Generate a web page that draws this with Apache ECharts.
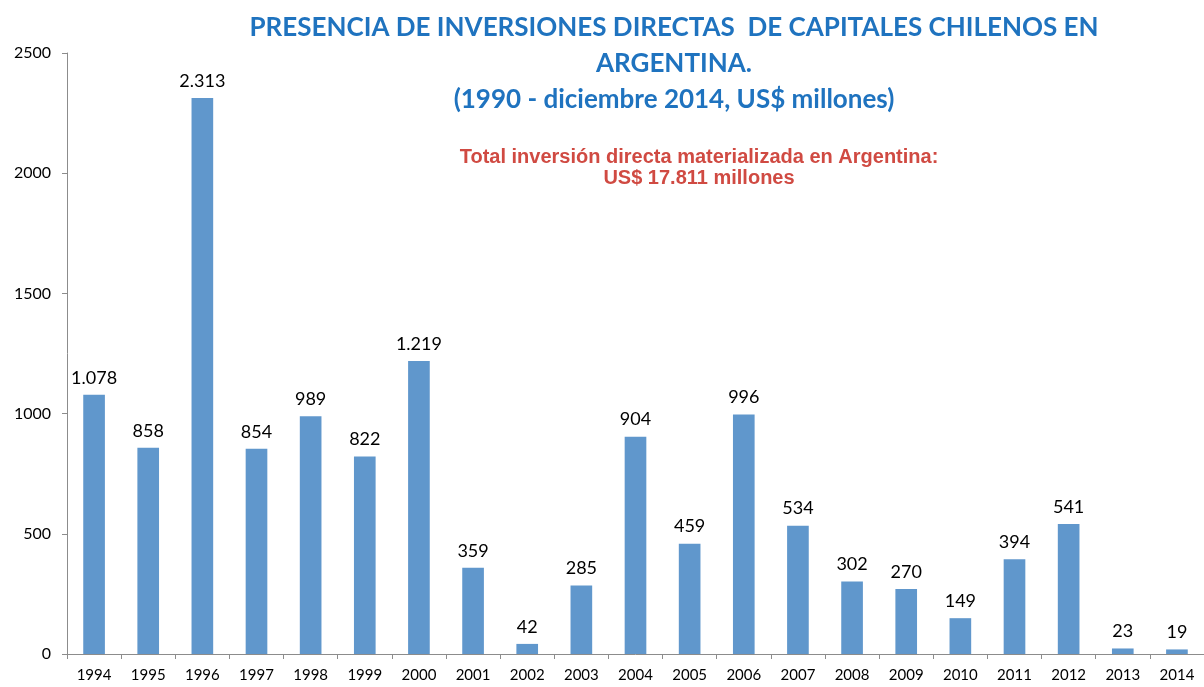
<!DOCTYPE html>
<html>
<head>
<meta charset="utf-8">
<script src="https://cdn.jsdelivr.net/npm/echarts@6/dist/echarts.min.js"></script>
<style>
  html, body { margin: 0; padding: 0; background: #fff; }
  #chart { width: 1204px; height: 687px; }
</style>
</head>
<body>
<div id="chart"></div>
<script>
  const years = ['1994', '1995', '1996', '1997', '1998', '1999', '2000', '2001', '2002', '2003', '2004',
    '2005', '2006', '2007', '2008', '2009', '2010', '2011', '2012', '2013', '2014'];
  const inversion = [1078, 858, 2313, 854, 989, 822, 1219, 359, 42, 285, 904,
    459, 996, 534, 302, 270, 149, 394, 541, 23, 19];

  // formato con punto de miles
  function fmt(v) {
    return String(v).replace(/\B(?=(\d{3})+(?!\d))/g, '.');
  }

  const chart = echarts.init(document.getElementById('chart'));
  const option = {
    animation: false,
    title: [
      {
        text: 'PRESENCIA DE INVERSIONES DIRECTAS  DE CAPITALES CHILENOS EN\nARGENTINA.\n(1990 - diciembre 2014, US$ millones)',
        left: 669,
        top: 5,
        textAlign: 'center',
        textStyle: {
          fontFamily: 'Lato',
          fontWeight: 'bold',
          fontSize: 26,
          lineHeight: 36,
          color: '#1f73bf'
        }
      },
      {
        text: 'Total inversión directa materializada en Argentina:\nUS$ 17.811 millones',
        left: 694,
        top: 142,
        textAlign: 'center',
        textStyle: {
          fontFamily: 'Liberation Sans',
          fontWeight: 'bold',
          fontSize: 20,
          lineHeight: 21,
          color: '#d04a42'
        }
      }
    ],
    grid: {
      left: 67,
      right: -8,
      top: 53,
      bottom: 33
    },
    xAxis: {
      type: 'category',
      data: years,
      axisLine: { lineStyle: { color: '#8c8c8c' } },
      axisTick: { show: true, length: 5, lineStyle: { color: '#8c8c8c' } },
      axisLabel: {
        color: '#000',
        fontFamily: 'Lato',
        fontSize: 15,
        margin: 14
      }
    },
    yAxis: {
      type: 'value',
      min: 0,
      max: 2500,
      interval: 500,
      splitLine: { show: false },
      axisLine: { show: true, lineStyle: { color: '#8c8c8c' } },
      axisTick: { show: true, length: 5, lineStyle: { color: '#8c8c8c' } },
      axisLabel: {
        color: '#000',
        fontFamily: 'Lato',
        fontSize: 16,
        margin: 16,
        formatter: v => String(v)
      }
    },
    series: [
      {
        type: 'bar',
        data: inversion,
        barWidth: '40%',
        itemStyle: { color: '#6097cc' },
        label: {
          show: true,
          position: 'top',
          distance: 8,
          color: '#000',
          fontFamily: 'Lato',
          fontSize: 18,
          formatter: p => fmt(p.value)
        }
      }
    ]
  };
  chart.setOption(option);

  window.addEventListener('resize', function() {
    chart.resize();
  });
</script>
</body>
</html>
